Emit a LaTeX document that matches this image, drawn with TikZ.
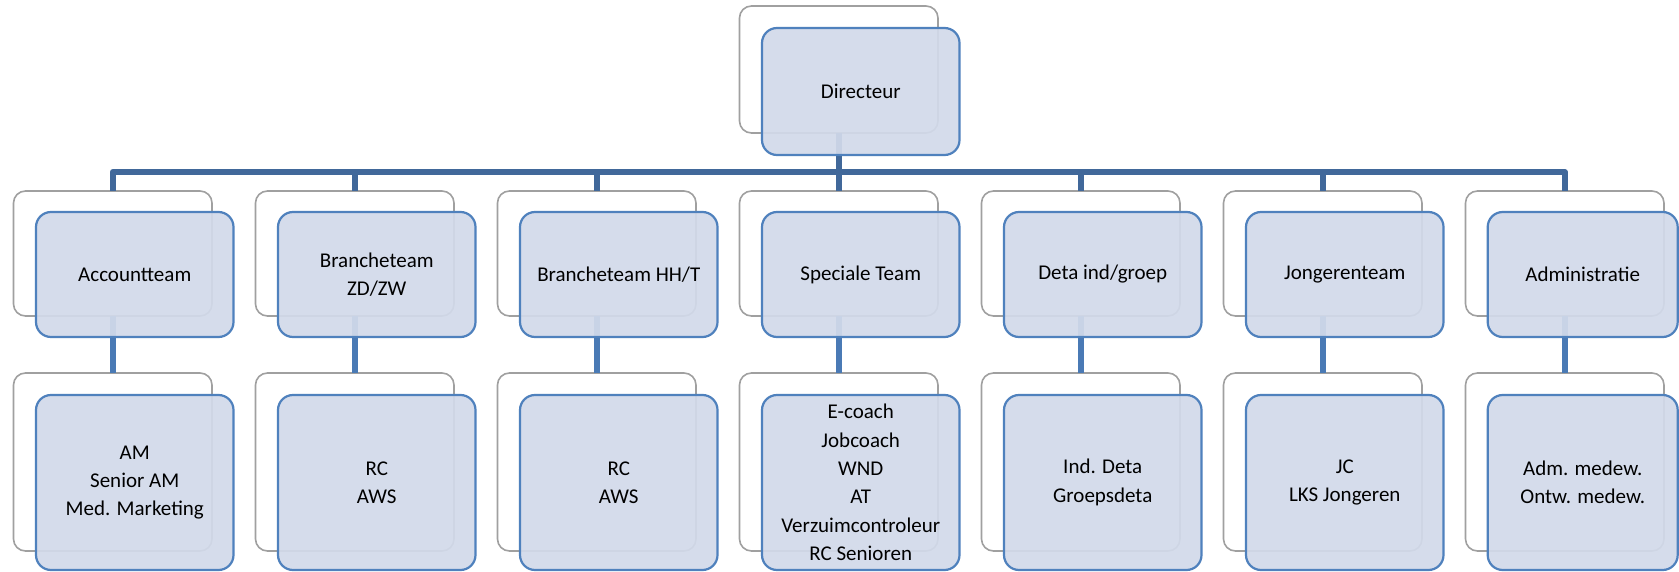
\documentclass[tikz,border=0pt]{standalone}
\usepackage{fontspec}
\setmainfont{Carlito}
\definecolor{backgray}{HTML}{A0A0A0}
\definecolor{frontblue}{HTML}{4F81BD}
\definecolor{frontfill}{HTML}{D2DAEA}
\definecolor{barblue}{HTML}{41689A}
\definecolor{lowblue}{HTML}{4A7AB5}
\begin{document}
\begin{tikzpicture}[x=1pt,y=-1pt,
  backbox/.style={draw=backgray, line width=1.6pt, fill=white, rounded corners=12pt,
    minimum width=198.5pt, inner sep=0pt, outer sep=0pt},
  frontbox/.style={draw=frontblue, line width=2.2pt, fill=frontfill, fill opacity=0.93,
    text opacity=1, rounded corners=15pt, minimum width=197.5pt, inner sep=0pt, outer sep=0pt,
    align=center, font=\fontsize{21}{28.3}\selectfont},
  htop/.style={minimum height=127pt},
  hone/.style={minimum height=125pt},
  htwoback/.style={minimum height=178pt},
  htwofront/.style={minimum height=175pt},
  conn/.style={draw=barblue, line width=6pt, line join=round},
  conntwo/.style={draw=lowblue, line width=5.5pt}]
\useasboundingbox (0,0) rectangle (1679,572);
\fill[white] (0,0) rectangle (1679,572);

% back boxes
\node[backbox, htop] (tb) at (838.75,69.5) {};
\node[backbox, hone] (a1) at (112.75,253.5) {};
\node[backbox, hone] (a2) at (354.75,253.5) {};
\node[backbox, hone] (a3) at (596.75,253.5) {};
\node[backbox, hone] (a4) at (838.75,253.5) {};
\node[backbox, hone] (a5) at (1080.75,253.5) {};
\node[backbox, hone] (a6) at (1322.75,253.5) {};
\node[backbox, hone] (a7) at (1564.75,253.5) {};
\node[backbox, htwoback] (c1) at (112.75,462) {};
\node[backbox, htwoback] (c2) at (354.75,462) {};
\node[backbox, htwoback] (c3) at (596.75,462) {};
\node[backbox, htwoback] (c4) at (838.75,462) {};
\node[backbox, htwoback] (c5) at (1080.75,462) {};
\node[backbox, htwoback] (c6) at (1322.75,462) {};
\node[backbox, htwoback] (c7) at (1564.75,462) {};

% connectors
\coordinate (bar) at (0,172);
\foreach \n in {a1,a2,a3,a4,a5,a6,a7}
  \draw[conn] (tb.south) |- (bar -| \n.north) -- (\n.north);
\foreach \i in {1,...,7}
  \draw[conntwo] (a\i.south) -- (c\i.north);

% front boxes
\node[frontbox, htop] (tf) at (860.75,91.5) {Directeur};
\node[frontbox, hone] (b1) at (134.75,274.5) {Accountteam};
\node[frontbox, hone] (b2) at (376.75,274.5) {Brancheteam\\ZD/ZW};
\node[frontbox, hone] (b3) at (618.75,274.5) {Brancheteam HH/T};
\node[frontbox, hone] (b4) at (860.75,274.5) {Speciale Team};
\node[frontbox, hone] (b5) at (1102.75,274.5) {Deta ind/groep};
\node[frontbox, hone] (b6) at (1344.75,274.5) {Jongerenteam};
\node[frontbox, hone, minimum width=190pt] (b7) at (1582.7,274.5) {Administratie};
\node[frontbox, htwofront] (d1) at (134.75,482.5) {AM\\Senior AM\\Med. Marketing};
\node[frontbox, htwofront] (d2) at (376.75,482.5) {RC\\AWS};
\node[frontbox, htwofront] (d3) at (618.75,482.5) {RC\\AWS};
\node[frontbox, htwofront] (d4) at (860.75,482.5) {E-coach\\Jobcoach\\WND\\AT\\Verzuimcontroleur\\RC Senioren};
\node[frontbox, htwofront] (d5) at (1102.75,482.5) {Ind. Deta\\Groepsdeta};
\node[frontbox, htwofront] (d6) at (1344.75,482.5) {JC\\LKS Jongeren};
\node[frontbox, htwofront, minimum width=190pt] (d7) at (1582.7,482.5) {Adm. medew.\\Ontw. medew.};
\end{tikzpicture}
\end{document}
